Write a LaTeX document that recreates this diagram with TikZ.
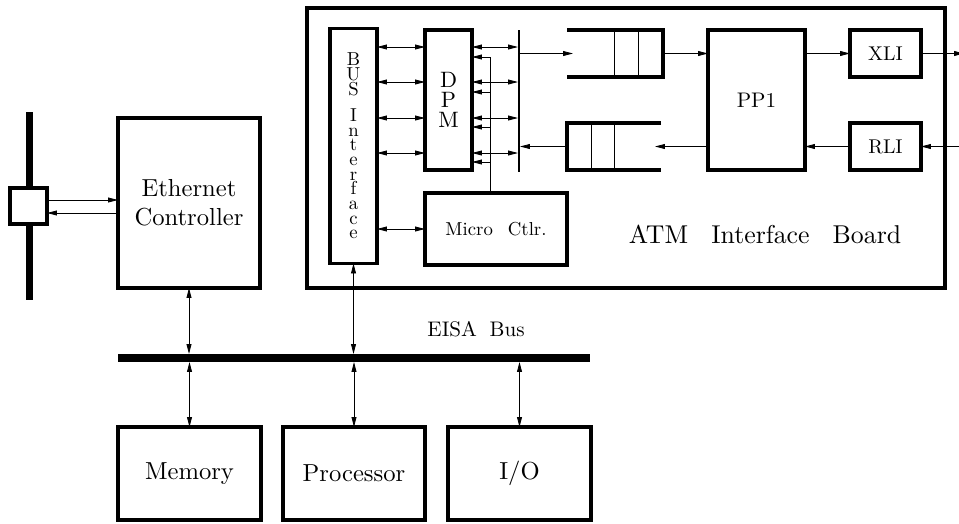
\documentclass[tikz,border=0pt]{standalone}
\usepackage{fontspec}
\setmainfont{lmroman10-regular}[Extension=.otf]
\usetikzlibrary{arrows.meta}

\begin{document}
\begin{tikzpicture}[x=0.03cm,y=-0.03cm,>={Triangle[length=8.5pt,width=4.2pt]},
  wire/.style={line width=0.7pt},
  boxsize/.style 2 args={minimum width=#1*0.03cm,minimum height=#2*0.03cm},
  block/.style={draw,line width=2.6pt,inner sep=0pt,outer sep=0pt},
  hollow/.style={inner sep=0pt,outer sep=0pt},
  busbar/.style={fill=black,inner sep=0pt,outer sep=0pt},
  label font/.style={font=\fontsize{21}{25}\selectfont}]

  \useasboundingbox (0,0) rectangle (959,523);

  % ATM interface board
  \node[block,boxsize={638}{280}] (board) at (626,148) {};
  \node[block,boxsize={47}{235},font=\fontsize{16}{12.5}\selectfont,align=center] (busif) at (353.5,146)
    {B\\U\\S\\[10pt]I\\n\\t\\e\\r\\f\\a\\c\\e};
  \node[block,boxsize={47}{140},font=\fontsize{19}{17}\selectfont,align=center] (dpm) at (448.5,100) {D\\P\\M};
  \node[block,boxsize={142}{72},font=\fontsize{16}{19}\selectfont] (micro) at (496,229) {Micro\hspace{0.8em}Ctlr.};
  \node[busbar,boxsize={2}{142}] (dbar) at (519,101) {};
  \node[hollow,boxsize={96}{47}] (qin) at (615,53.5) {};
  \node[hollow,boxsize={94}{47}] (qout) at (614,146.5) {};
  \node[block,boxsize={97}{140},font=\fontsize{18}{21}\selectfont] (pp1) at (756.5,100) {PP1};
  \node[block,boxsize={71}{47},font=\fontsize{17}{20}\selectfont] (xli) at (885.5,53.5) {XLI};
  \node[block,boxsize={71}{47},font=\fontsize{17}{20}\selectfont] (rli) at (885.5,146.5) {RLI};
  \node[font=\fontsize{22}{26}\selectfont] (atm) at (765,234) {ATM\hspace{0.9em}Interface\hspace{0.9em}Board};
  \coordinate (tap) at (490,57);
  \coordinate (xout) at (964,53.5);
  \coordinate (rin) at (990,146.5);

  % queues
  \draw[line width=2.6pt] (qin.north west) -- (qin.north east) -- (qin.south east) -- (qin.south west);
  \draw[line width=2.6pt] (qout.north east) -- (qout.north west) -- (qout.south west) -- (qout.south east);
  \foreach \x in {614,638} \draw[wire] (qin.north -| \x,0) -- (qin.south -| \x,0);
  \foreach \x in {591,614} \draw[wire] (qout.north -| \x,0) -- (qout.south -| \x,0);

  % host side
  \node[busbar,boxsize={7}{188}] (ebus) at (29,206) {};
  \node[block,fill=white,boxsize={37}{36}] (xcvr) at (28.5,206) {};
  \node[block,boxsize={142}{170},label font,align=center] (eth) at (189,203) {Ethernet\\Controller};
  \node[busbar,boxsize={472}{8}] (eisa) at (354,358) {};
  \node[font=\fontsize{18}{21}\selectfont] (eisalbl) at (476,329) {EISA\hspace{0.6em}Bus};
  \node[block,boxsize={143}{93},label font] (mem) at (189.5,473.5) {Memory};
  \node[block,boxsize={142}{93},label font] (cpu) at (354,473.5) {Processor};
  \node[block,boxsize={143}{93},label font] (io) at (519.5,473.5) {I/O};

  \foreach \y in {47,82,118,153} {
    \draw[wire,<->] (busif.east |- 0,\y) -- (dpm.west |- 0,\y);
    \draw[wire,<->] (dpm.east |- 0,\y) -- (dbar.west |- 0,\y);
  }
  \draw[wire] (micro.north -| tap) -- (tap);
  \foreach \y in {57,92,127,162}
    \draw[wire,->] (tap |- 0,\y) -- (dpm.east |- 0,\y);

  \path[wire,->]
    (busif.east |- micro.west) edge[<->] (micro.west)
    (dbar.east |- qin.west) edge ([xshift=0.18cm]qin.west)
    (qin.east) edge (pp1.west |- qin.east)
    (pp1.east |- xli.west) edge (xli.west)
    (xli.east) edge (xout)
    (rin) edge (rli.east)
    (rli.west) edge (pp1.east |- rli.west)
    (pp1.west |- qout.east) edge ([xshift=-0.18cm]qout.east)
    (qout.west) edge (dbar.east |- qout.west)
    %ethernet tap
    (xcvr.east |- 0,200) edge (eth.west |- 0,200)
    (eth.west |- 0,213) edge (xcvr.east |- 0,213)
    %EISA bus
    (eth.south) edge[<->] (eth.south |- eisa.north)
    (busif.south) edge[<->] (busif.south |- eisa.north)
    (mem.north) edge[<->] (mem.north |- eisa.south)
    (cpu.north) edge[<->] (cpu.north |- eisa.south)
    (io.north) edge[<->] (io.north |- eisa.south);
\end{tikzpicture}
\end{document}
